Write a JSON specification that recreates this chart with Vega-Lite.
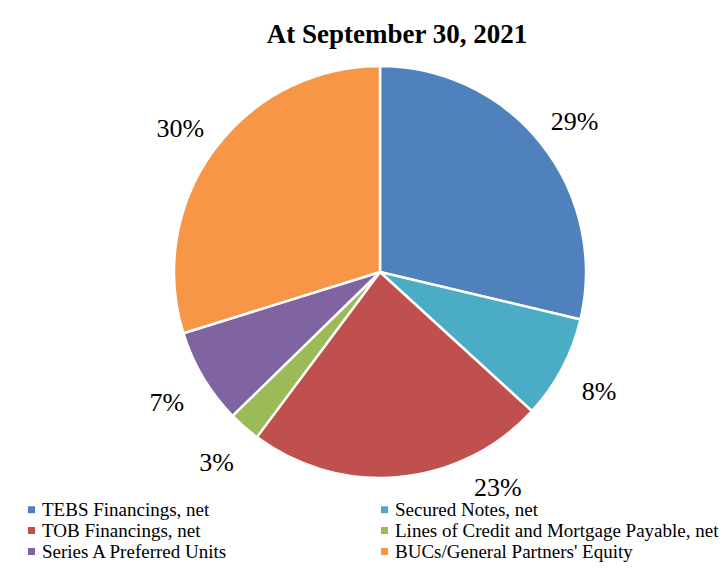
{
  "$schema": "https://vega.github.io/schema/vega-lite/v6.json",
  "width": 760,
  "height": 424,
  "autosize": "none",
  "padding": {"left": 0, "top": 60, "right": 0, "bottom": 85},
  "background": "white",
  "title": {
    "text": "At September 30, 2021",
    "font": "Liberation Serif",
    "fontSize": 27,
    "fontWeight": "bold",
    "color": "#000000",
    "anchor": "middle",
    "dx": 17,
    "offset": -24,
    "baseline": "alphabetic"
  },
  "data": {
    "values": [
      {"category": "TEBS Financings, net", "value": 28.7, "label": "29%", "order": 1},
      {"category": "Secured Notes, net", "value": 8.1, "label": "8%", "order": 2},
      {"category": "TOB Financings, net", "value": 23.4, "label": "23%", "order": 3},
      {"category": "Lines of Credit and Mortgage Payable, net", "value": 2.5, "label": "3%", "order": 4},
      {"category": "Series A Preferred Units", "value": 7.5, "label": "7%", "order": 5},
      {"category": "BUCs/General Partners' Equity", "value": 29.8, "label": "30%", "order": 6}
    ]
  },
  "encoding": {
    "theta": {"field": "value", "type": "quantitative", "stack": true},
    "order": {"field": "order", "type": "quantitative"},
    "color": {
      "field": "category",
      "type": "nominal",
      "scale": {
        "domain": ["TEBS Financings, net", "Secured Notes, net", "TOB Financings, net", "Lines of Credit and Mortgage Payable, net", "Series A Preferred Units", "BUCs/General Partners' Equity"],
        "range": ["#4F81BD", "#4BACC6", "#C0504D", "#9BBB59", "#8064A2", "#F79646"]
      },
      "legend": {"title": null}
    }
  },
  "layer": [
    {"mark": {"type": "arc", "outerRadius": 206, "stroke": "white", "strokeWidth": 2.5}},
    {
      "mark": {"type": "text", "radius": 248, "dy": 4, "font": "Liberation Serif", "fontSize": 26, "align": "center", "baseline": "middle"},
      "encoding": {
        "text": {"condition": {"test": "datum.order === 3", "value": ""}, "field": "label"},
        "color": {"value": "#000000"}
      }
    },
    {
      "mark": {"type": "text", "radius": 244, "dy": 2, "thetaOffset": -0.41, "font": "Liberation Serif", "fontSize": 26, "align": "center", "baseline": "middle"},
      "encoding": {
        "text": {"condition": {"test": "datum.order === 3", "field": "label"}, "value": ""},
        "color": {"value": "#000000"}
      }
    }
  ],
  "config": {
    "view": {"stroke": null},
    "legend": {
      "orient": "none",
      "direction": "horizontal",
      "legendX": 22,
      "legendY": 440,
      "columns": 2,
      "columnPadding": 146,
      "rowPadding": 1,
      "padding": 0,
      "symbolType": "square",
      "symbolSize": 49,
      "symbolStrokeWidth": 0,
      "labelFont": "Liberation Serif",
      "labelFontSize": 19,
      "labelColor": "#000000",
      "labelLimit": 400,
      "labelOffset": 1
    }
  }
}
